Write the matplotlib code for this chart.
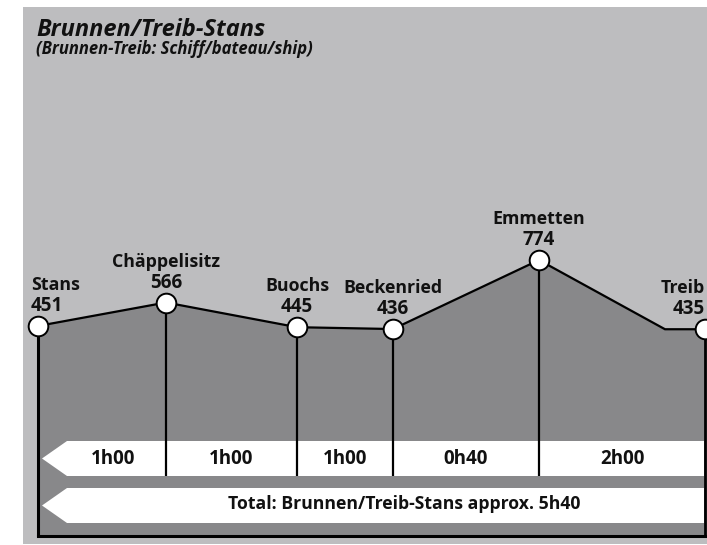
import matplotlib
matplotlib.use("Agg")
import matplotlib.pyplot as plt
from matplotlib.patches import Rectangle, Polygon

# ---------------- data ----------------
stop_names = ["Stans", "Chäppelisitz", "Buochs", "Beckenried", "Emmetten", "Treib"]
stop_dist = [0.0, 3.2, 6.475, 8.875, 12.525, 16.675]      # km along route
stop_elev = [451, 566, 445, 436, 774, 435]                # m
# profile line (includes one unlabelled bend before Treib)
profile_dist = [0.0, 3.2, 6.475, 8.875, 12.525, 15.675, 16.675]
profile_elev = [451, 566, 445, 436, 774, 435, 435]
segment_times = ["1h00", "1h00", "1h00", "0h40", "2h00"]
total_label = "Total: Brunnen/Treib-Stans approx. 5h40"
title = "Brunnen/Treib-Stans"
subtitle = "(Brunnen-Treib: Schiff/bateau/ship)"

# ---------------- style ----------------
W, H = 707, 545
FONT = "Open Sans"
LIGHT = "#bdbdbf"
DARK = "#88888a"
INK = "#111111"

fig = plt.figure(figsize=(W / 100, H / 100), dpi=100)
fig.patch.set_facecolor("white")
ax = fig.add_axes([0, 0, 1, 1])
ax.set_axis_off()

# axis scales: x in km, y in metres
XMIN, XMAX = -0.95, 16.725
YMIN, YMAX = -622, 2048
ax.set_xlim(XMIN, XMAX)
ax.set_ylim(YMIN, YMAX)


def px(x, y):
    """pixel position (from top-left) -> data coordinates (for decoration)"""
    return (XMIN + x / W * (XMAX - XMIN), YMAX - y / H * (YMAX - YMIN))


def rect_px(x0, y0, x1, y1, **kw):
    a = px(x0, y1)
    b = px(x1, y0)
    return Rectangle(a, b[0] - a[0], b[1] - a[1], **kw)


# light grey background panel
ax.add_patch(rect_px(23, 7, 707, 544, facecolor=LIGHT, edgecolor="none", zorder=0))

# dark filled profile area
base = px(0, 536)[1]
ax.fill_between(profile_dist, profile_elev, base, facecolor=DARK, edgecolor="none", zorder=1)

# time bands (arrow shape)
def arrow_band(y0, y1):
    ym = (y0 + y1) / 2
    pts = [px(42, ym), px(67, y0), px(704, y0), px(704, y1), px(67, y1)]
    return Polygon(pts, closed=True, facecolor="white", edgecolor="none", zorder=2)

ax.add_patch(arrow_band(441, 476))
ax.add_patch(arrow_band(488, 523))

band_bottom = px(0, 476)[1]
# vertical lines from stops down through first band
for d, e in zip(stop_dist[1:-1], stop_elev[1:-1]):
    ax.plot([d, d], [e, band_bottom], color="black", lw=1.6, zorder=3,
            solid_capstyle="butt")

# frame: left, bottom, right
ax.plot([stop_dist[0], stop_dist[0]], [stop_elev[0], base], color="black", lw=2.2, zorder=3,
        solid_capstyle="butt")
ax.plot([stop_dist[-1], stop_dist[-1]], [stop_elev[-1], base], color="black", lw=2.0, zorder=3,
        solid_capstyle="butt")
ax.plot([stop_dist[0], stop_dist[-1]], [base, base], color="black", lw=2.2, zorder=3,
        solid_capstyle="projecting")

# profile line and markers
ax.plot(profile_dist, profile_elev, color="black", lw=1.6, zorder=4, solid_joinstyle="miter")
ax.scatter(stop_dist, stop_elev, s=200, facecolor="white", edgecolor="black",
           linewidth=1.4, zorder=5, clip_on=False)

# stop labels
lab_kw = dict(fontfamily=FONT, fontweight="bold", color=INK,
              textcoords="offset pixels", va="center", zorder=6, annotation_clip=False)
for i, (name, d, e) in enumerate(zip(stop_names, stop_dist, stop_elev)):
    if i == 0:
        ha, dx1, dx2 = "left", -7, -7
    elif i == len(stop_names) - 1:
        ha, dx1, dx2 = "right", 0, 0
    else:
        ha, dx1, dx2 = "center", 0, 0
    ax.annotate(name, (d, e), xytext=(dx1, 41), ha=ha, fontsize=12.8, **lab_kw)
    ax.annotate(str(e), (d, e), xytext=(dx2, 20), ha=ha, fontsize=13.5, **lab_kw)

# segment times
band1_y = px(0, 459)[1]
band2_y = px(0, 504)[1]
left_edges = [px(60, 0)[0]] + stop_dist[1:-1]
for t, x0, x1 in zip(segment_times, left_edges, stop_dist[1:]):
    ax.text((x0 + x1) / 2, band1_y, t, ha="center", va="center", fontfamily=FONT,
            fontweight="bold", fontsize=13.5, color=INK, zorder=6)

ax.text(px(404, 0)[0], band2_y, total_label, ha="center", va="center", fontfamily=FONT,
        fontweight="bold", fontsize=12.7, color=INK, zorder=6)

# title
tx, ty = px(36, 30)
ax.text(tx, ty, title, ha="left", va="center", fontfamily=FONT, fontweight="bold",
        fontstyle="italic", fontsize=17, color=INK, zorder=6)
sx, sy = px(36, 49)
ax.text(sx, sy, subtitle, ha="left", va="center", fontfamily=FONT, fontweight="bold",
        fontstyle="italic", fontsize=12, color=INK, zorder=6)

fig.savefig("out.png", dpi=100, facecolor="white")
